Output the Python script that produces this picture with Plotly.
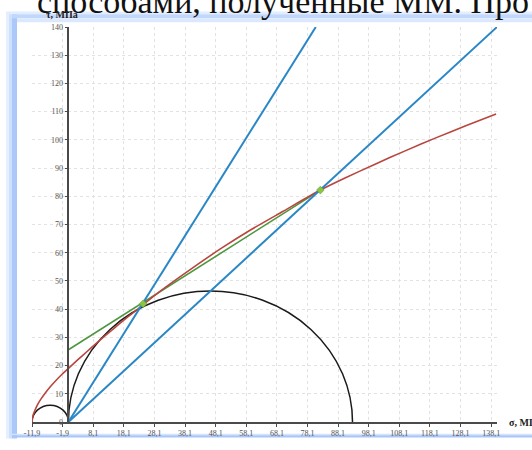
import plotly.graph_objects as go

# ---------------- data ----------------
x_tick_vals = [-11.9, -1.9, 8.1, 18.1, 28.1, 38.1, 48.1, 58.1, 68.1, 78.1,
               88.1, 98.1, 108.1, 118.1, 128.1, 138.1]
x_tick_text = ["-11,9", "-1,9", "8,1", "18,1", "28,1", "38,1", "48,1", "58,1",
               "68,1", "78,1", "88,1", "98,1", "108,1", "118,1", "128,1", "138,1"]
y_tick_vals = [0, 10, 20, 30, 40, 50, 60, 70, 80, 90, 100, 110, 120, 130, 140]

# Mohr circles: (sigma3, sigma1)
circle_sigma3 = [-11.9, 0.0]
circle_sigma1 = [0.0, 92.8]

# curved envelope (red)
red_sigma = [-11.9, -11.5, -11.0, -10.0, -9.0, -7.5, -6.0, -4.0, -2.0, 0.0,
             3.0, 6.0, 9.0, 12.0, 15.0, 18.0, 21.0, 24.4, 30.0, 40.0, 50.0,
             60.0, 70.0, 82.3, 90.0, 100.0, 110.0, 120.0, 130.0, 139.7]
red_tau = [0.0, 2.6, 4.0, 6.3, 8.1, 10.4, 12.4, 14.8, 17.0, 19.0,
           22.0, 24.9, 27.8, 30.6, 33.3, 36.0, 38.6, 41.6, 46.4, 54.2, 61.6,
           68.4, 74.6, 82.2, 86.3, 91.3, 96.1, 100.7, 105.1, 109.2]

# straight envelope (green)
green_sigma = [0.0, 82.3]
green_tau = [25.6, 82.2]

# rays from origin (blue)
blue1_sigma = [0.0, 80.8]
blue1_tau = [0.0, 140.0]
blue2_sigma = [0.0, 140.0]
blue2_tau = [0.0, 140.0]

# intersection points
pt_sigma = [24.4, 82.3]
pt_tau = [41.9, 82.2]

# ---------------- figure ----------------
W, H = 532, 450
ML, MR, MT, MB = 32, 35, 27, 17
PW, PH = W - ML - MR, H - MT - MB


def px(xp):
    return (xp - ML) / PW


def py(yp):
    return (H - MB - yp) / PH


SERIF = "Liberation Serif, Times New Roman, serif"

fig = go.Figure()

fig.add_trace(go.Scatter(x=green_sigma, y=green_tau, mode="lines",
                         line=dict(color="#4f9640", width=1.6), hoverinfo="skip"))
fig.add_trace(go.Scatter(x=red_sigma, y=red_tau, mode="lines",
                         line=dict(color="#b8463e", width=1.6, shape="spline", smoothing=0.6),
                         hoverinfo="skip"))
fig.add_trace(go.Scatter(x=blue1_sigma, y=blue1_tau, mode="lines",
                         line=dict(color="#2a87c6", width=2), hoverinfo="skip"))
fig.add_trace(go.Scatter(x=blue2_sigma, y=blue2_tau, mode="lines",
                         line=dict(color="#2a87c6", width=2), hoverinfo="skip"))
fig.add_trace(go.Scatter(x=pt_sigma, y=pt_tau, mode="markers",
                         marker=dict(symbol="diamond", size=6, color="#8cc63e",
                                     line=dict(color="#4f9640", width=0.5)),
                         hoverinfo="skip"))

shapes = []
for s3, s1 in zip(circle_sigma3, circle_sigma1):
    r = (s1 - s3) / 2
    shapes.append(dict(type="circle", xref="x", yref="y", x0=s3, x1=s1, y0=-r, y1=r,
                       line=dict(color="#1a1a1a", width=1.5), layer="between"))

# page decoration: blue frame glow around the picture
deco = [
    (6, 9, 12, 450, "#e6effe"),
    (9, 12, 12, 450, "#cfe0fd"),
    (12, 17, 14, 450, "#abc8fa"),
    (6, 532, 11, 14, "#e3edfe"),
    (12, 532, 14, 18, "#c2d7fc"),
    (17, 532, 18, 22, "#dce8fe"),
    (12, 532, 445, 446.5, "#d3e3fd"),
    (12, 532, 446.5, 449, "#a9c6f8"),
]
for x0, x1, y0, y1, c in deco:
    shapes.append(dict(type="rect", xref="paper", yref="paper",
                       x0=px(x0), x1=px(x1), y0=py(y1), y1=py(y0),
                       fillcolor=c, line=dict(width=0), layer="below"))

annotations = [
    dict(text="способами, полученные ММ. Про", xref="paper", yref="paper",
         x=px(35), y=py(22), xanchor="left", yanchor="bottom", showarrow=False,
         font=dict(family=SERIF, size=34, color="#111")),
    dict(text="<b>τ, МПа</b>", xref="paper", yref="paper", x=px(44), y=py(14.5),
         xanchor="left", yanchor="middle", showarrow=False,
         font=dict(family=SERIF, size=10, color="#222")),
    dict(text="<b>σ, МПа</b>", xref="paper", yref="paper", x=px(507), y=py(434),
         xanchor="left", yanchor="middle", showarrow=False,
         font=dict(family=SERIF, size=10, color="#222")),
]

y0_pos = (0 - (-11.9)) / (140 - (-11.9))

fig.update_layout(
    width=W, height=H,
    margin=dict(l=ML, r=MR, t=MT, b=MB, pad=0),
    paper_bgcolor="white", plot_bgcolor="white",
    showlegend=False,
    shapes=shapes,
    annotations=annotations,
    xaxis=dict(range=[-11.9, 140], tickvals=x_tick_vals, ticktext=x_tick_text,
               showgrid=True, gridcolor="#e2e2e2", gridwidth=1, griddash="dot",
               zeroline=False, showline=True, linecolor="#4a4a4a", linewidth=1.5,
               ticks="outside", ticklen=3, tickcolor="#4a4a4a",
               tickfont=dict(family=SERIF, size=8, color="#555"), fixedrange=True),
    yaxis=dict(range=[0, 140], tickvals=y_tick_vals, anchor="free", position=y0_pos,
               showgrid=True, gridcolor="#e2e2e2", gridwidth=1, griddash="dot",
               zeroline=False, showline=True, linecolor="#4a4a4a", linewidth=1.5,
               ticks="outside", ticklen=3, tickcolor="#4a4a4a",
               tickfont=dict(family=SERIF, size=8, color="#555"), fixedrange=True),
)

fig.write_html("out.html", config={"displayModeBar": False},
               post_script="document.body.style.margin='0';document.body.style.overflow='hidden';")
